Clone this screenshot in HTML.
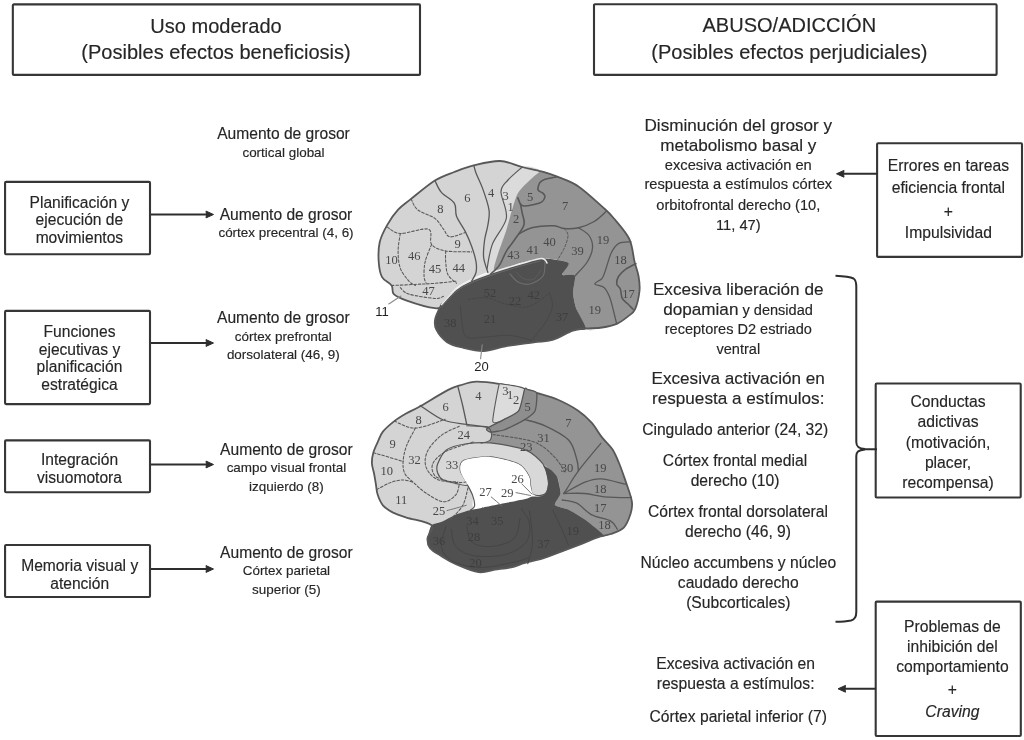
<!DOCTYPE html>
<html><head><meta charset="utf-8"><style>
html,body{margin:0;padding:0;background:#fff;}
body{width:1024px;height:740px;overflow:hidden;}
svg{display:block;filter:grayscale(1);}
</style></head><body>
<svg width="1024" height="740" viewBox="0 0 1024 740">
<rect width="1024" height="740" fill="#fff"/>
<path d="M434.9,308.2 C428.8,307.5 413.6,303.0 406.8,300.6 C400.0,298.2 396.3,296.6 393.8,294.1 C391.3,291.6 393.6,288.4 391.6,285.5 C389.6,282.6 384.0,280.8 381.9,276.8 C379.8,272.8 379.1,267.5 378.7,261.7 C378.3,255.9 378.3,248.3 379.7,242.2 C381.1,236.1 384.2,230.3 387.3,224.9 C390.4,219.5 394.1,214.0 398.1,209.7 C402.1,205.4 405.0,203.8 411.1,198.9 C417.2,194.0 427.7,185.0 434.9,180.5 C442.1,176.0 447.7,174.5 454.2,172.0 C460.7,169.5 466.2,167.2 473.8,165.4 C481.4,163.6 491.9,160.7 500.0,161.0 C508.1,161.3 515.3,165.3 522.2,167.0 C529.1,168.7 535.6,169.8 541.5,171.4 C547.4,173.0 551.1,174.2 557.3,176.7 C563.4,179.2 570.8,181.3 578.4,186.4 C586.0,191.5 597.1,202.1 603.0,207.4 C608.9,212.7 609.1,212.7 613.5,218.0 C617.9,223.3 625.8,231.7 629.3,239.0 C632.8,246.3 633.0,255.8 634.6,262.0 C636.2,268.2 637.8,271.7 638.6,276.5 C639.4,281.3 640.1,285.5 639.5,291.0 C638.9,296.5 637.0,305.0 635.0,309.3 C633.0,313.6 630.8,314.2 627.7,316.6 C624.7,319.0 621.0,322.1 616.7,323.9 C612.4,325.7 607.3,326.7 602.1,327.5 C596.9,328.3 590.2,333.1 585.7,328.5 C581.2,323.9 579.3,309.8 575.0,300.0 C570.7,290.2 569.2,276.2 560.0,270.0 C550.8,263.8 532.2,262.6 520.0,263.0 C507.8,263.4 497.4,268.4 486.8,272.5 C476.2,276.6 463.7,282.2 456.5,287.6 C449.3,293.0 447.1,301.5 443.5,304.9 C439.9,308.3 441.0,308.9 434.9,308.2Z" fill="#d3d4d6"/>
<path d="M522.2,167.0 C527.6,164.3 540.5,169.7 541.5,171.4 C542.5,173.1 533.3,176.9 530.0,180.0 C526.7,183.1 520.1,188.3 517.0,195.0 C513.9,201.7 509.5,219.9 506.4,230.0 C503.3,240.1 496.6,265.6 494.0,270.8 C491.4,276.0 487.2,272.5 487.0,269.0 C486.8,265.5 489.7,251.2 492.3,244.4 C494.9,237.6 505.2,225.0 506.4,218.0 C507.6,211.0 498.9,198.4 501.0,191.6 C503.1,184.8 516.8,169.7 522.2,167.0Z" fill="#dadbdd"/>
<path d="M541.5,171.4 C544.7,171.0 553.0,174.9 557.3,176.7 C561.6,178.4 573.1,182.8 578.4,186.4 C583.7,190.0 598.9,203.7 603.0,207.4 C607.1,211.1 610.4,214.3 613.5,218.0 C616.6,221.7 626.8,233.9 629.3,239.0 C631.8,244.1 633.5,257.6 634.6,262.0 C635.7,266.4 638.0,273.1 638.6,276.5 C639.2,279.9 639.9,287.2 639.5,291.0 C639.1,294.8 636.4,306.3 635.0,309.3 C633.6,312.3 629.8,314.9 627.7,316.6 C625.6,318.3 619.7,322.6 616.7,323.9 C613.7,325.2 605.7,327.0 602.1,327.5 C598.5,328.0 588.7,330.6 585.7,328.5 C582.7,326.4 578.1,313.5 576.6,309.3 C575.1,305.1 573.2,296.8 573.0,292.9 C572.8,289.0 576.1,277.7 574.8,275.6 C573.5,273.5 562.7,276.2 562.0,274.7 C561.3,273.2 570.5,264.7 568.4,262.8 C566.3,260.9 549.4,258.2 543.8,258.2 C538.2,258.2 525.8,261.5 520.0,263.0 C514.2,264.5 495.6,274.7 494.0,270.8 C492.4,266.9 503.7,238.8 506.4,230.0 C509.1,221.2 514.2,200.8 517.0,195.0 C519.8,189.2 527.1,182.8 530.0,180.0 C532.9,177.2 538.3,171.8 541.5,171.4Z" fill="#939496"/>
<path d="M441.7,303.9 C444.2,300.5 453.2,291.7 456.5,289.0 C459.8,286.3 465.6,283.0 470.0,281.0 C474.4,279.0 488.2,274.0 494.0,272.0 C499.8,270.0 514.5,265.6 520.0,264.0 C525.5,262.4 535.9,258.6 541.5,258.5 C547.1,258.4 566.0,260.9 568.4,262.8 C570.8,264.7 561.3,273.2 562.0,274.7 C562.7,276.2 573.5,273.5 574.8,275.6 C576.1,277.7 572.8,289.0 573.0,292.9 C573.2,296.8 575.1,305.1 576.6,309.3 C578.1,313.5 586.1,326.0 585.7,328.5 C585.3,331.0 576.7,329.3 572.8,330.6 C568.9,331.9 557.0,338.6 552.5,340.0 C548.0,341.4 539.3,341.6 533.8,342.3 C528.3,343.0 511.4,345.3 505.6,346.3 C499.8,347.3 488.6,350.8 483.7,351.0 C478.8,351.2 467.7,348.8 463.4,347.8 C459.1,346.8 450.3,344.3 447.1,342.2 C443.9,340.1 437.6,332.2 436.2,329.4 C434.8,326.6 434.7,321.5 435.3,318.5 C435.9,315.5 439.2,307.3 441.7,303.9Z" fill="#505052"/>
<path d="M443.5,304.9 C442.1,305.4 441.0,308.9 434.9,308.2 C428.8,307.5 413.6,303.0 406.8,300.6 C400.0,298.2 396.3,296.6 393.8,294.1 C391.3,291.6 393.6,288.4 391.6,285.5 C389.6,282.6 384.0,280.8 381.9,276.8 C379.8,272.8 379.1,267.5 378.7,261.7 C378.3,255.9 378.3,248.3 379.7,242.2 C381.1,236.1 384.2,230.3 387.3,224.9 C390.4,219.5 394.1,214.0 398.1,209.7 C402.1,205.4 405.0,203.8 411.1,198.9 C417.2,194.0 427.7,185.0 434.9,180.5 C442.1,176.0 447.7,174.5 454.2,172.0 C460.7,169.5 466.2,167.2 473.8,165.4 C481.4,163.6 491.9,160.7 500.0,161.0 C508.1,161.3 515.3,165.3 522.2,167.0 C529.1,168.7 535.6,169.8 541.5,171.4 C547.4,173.0 551.1,174.2 557.3,176.7 C563.4,179.2 570.8,181.3 578.4,186.4 C586.0,191.5 597.1,202.1 603.0,207.4 C608.9,212.7 609.1,212.7 613.5,218.0 C617.9,223.3 625.8,231.7 629.3,239.0 C632.8,246.3 633.0,255.8 634.6,262.0 C636.2,268.2 637.8,271.7 638.6,276.5 C639.4,281.3 640.1,285.5 639.5,291.0 C638.9,296.5 637.0,305.0 635.0,309.3 C633.0,313.6 630.8,314.2 627.7,316.6 C624.7,319.0 621.0,322.1 616.7,323.9 C612.4,325.7 607.3,326.7 602.1,327.5 C596.9,328.3 590.6,328.0 585.7,328.5 C580.8,329.0 578.3,328.7 572.8,330.6 C567.3,332.5 559.0,338.1 552.5,340.0 C546.0,341.9 541.6,341.2 533.8,342.3 C526.0,343.4 514.0,344.9 505.6,346.3 C497.2,347.8 490.7,350.8 483.7,351.0 C476.7,351.2 469.5,349.3 463.4,347.8 C457.3,346.3 451.6,345.3 447.1,342.2 C442.6,339.1 438.2,333.3 436.2,329.4 C434.2,325.4 434.4,322.8 435.3,318.5 C436.2,314.2 440.6,306.3 441.7,303.9" fill="none" stroke="#585858" stroke-width="1.80" stroke-linecap="round" stroke-linejoin="round"/>
<path d="M441.5,304.5 C444.0,301.9 451.8,292.9 456.5,289.0 C461.2,285.1 463.8,283.8 470.0,281.0 C476.2,278.2 485.7,274.8 494.0,272.0 C502.3,269.2 512.1,266.2 520.0,264.0 C527.9,261.8 537.0,258.7 541.5,258.5 C546.0,258.3 546.1,262.2 547.0,263.0" fill="none" stroke="#ececec" stroke-width="1.50" stroke-linecap="round" stroke-linejoin="round"/>
<path d="M442.0,306.0 C444.5,303.5 452.2,294.8 457.0,291.0 C461.8,287.2 464.7,285.8 471.0,283.0 C477.3,280.2 486.7,276.8 495.0,274.0 C503.3,271.2 513.5,268.2 521.0,266.0 C528.5,263.8 536.8,261.8 540.0,261.0" fill="none" stroke="#6a6a6a" stroke-width="0.90" stroke-linecap="round" stroke-linejoin="round"/>
<path d="M510.0,274.0 C511.3,275.3 514.7,280.3 518.0,282.0 C521.3,283.7 525.8,285.0 530.0,284.0 C534.2,283.0 540.5,279.7 543.0,276.0 C545.5,272.3 544.7,264.3 545.0,262.0" fill="none" stroke="#6e6e6e" stroke-width="1.10" stroke-linecap="round" stroke-linejoin="round"/>
<path d="M516.0,272.0 C517.3,273.2 521.0,277.8 524.0,279.0 C527.0,280.2 531.2,280.5 534.0,279.0 C536.8,277.5 539.8,271.5 541.0,270.0" fill="none" stroke="#5e5e5e" stroke-width="0.90" stroke-linecap="round" stroke-linejoin="round"/>
<path d="M434.9,180.5 C436.0,182.5 438.1,188.6 441.4,192.4 C444.6,196.2 451.9,199.3 454.4,203.3 C456.9,207.3 454.7,211.5 456.5,216.2 C458.3,220.9 462.7,226.3 465.2,231.4 C467.7,236.5 469.9,241.4 471.7,246.5 C473.5,251.6 475.3,257.4 476.0,261.7 C476.7,266.0 476.7,269.3 476.0,272.5 C475.3,275.7 472.4,279.6 471.7,281.0" fill="none" stroke="#585858" stroke-width="1.30" stroke-linecap="round" stroke-linejoin="round"/>
<path d="M473.8,165.4 C474.2,166.7 474.6,169.2 476.0,173.0 C477.4,176.8 480.3,182.0 482.5,188.1 C484.7,194.2 488.1,203.7 489.0,209.8 C489.9,215.9 488.6,219.9 487.9,224.9 C487.2,229.9 485.3,234.6 484.6,240.0 C483.9,245.4 483.1,251.9 483.6,257.3 C484.2,262.7 487.2,270.0 487.9,272.5" fill="none" stroke="#585858" stroke-width="1.30" stroke-linecap="round" stroke-linejoin="round"/>
<path d="M522.2,167.0 C519.8,169.2 511.5,175.9 508.0,180.0 C504.5,184.1 501.3,185.3 501.0,191.6 C500.7,197.9 507.8,209.2 506.4,218.0 C504.9,226.8 495.5,235.9 492.3,244.4 C489.1,252.9 487.9,264.9 487.0,269.0" fill="none" stroke="#585858" stroke-width="1.20" stroke-linecap="round" stroke-linejoin="round"/>
<path d="M557.3,176.7 C555.5,177.1 547.6,178.4 545.0,179.3 C542.4,180.2 540.8,181.2 539.7,182.8 C538.7,184.4 537.5,188.3 538.0,189.9 C538.5,191.5 542.2,192.3 543.2,193.4 C544.2,194.5 545.3,195.6 545.0,196.9 C544.7,198.2 543.3,201.0 541.5,202.2 C539.7,203.4 535.3,204.2 532.7,204.8 C530.1,205.4 525.7,206.1 523.9,206.0 C522.1,205.9 521.3,205.1 520.4,203.9 C519.5,202.7 518.2,198.7 517.8,197.8" fill="none" stroke="#585858" stroke-width="1.60" stroke-linecap="round" stroke-linejoin="round"/>
<path d="M520.4,203.9 C520.7,205.4 521.5,209.2 522.1,212.7 C522.7,216.2 525.1,220.6 523.9,225.0 C522.7,229.4 518.0,234.6 515.1,239.0 C512.2,243.4 508.9,246.9 506.3,251.3 C503.7,255.7 501.9,261.6 499.3,265.4 C496.7,269.2 492.0,272.7 490.5,274.2" fill="none" stroke="#585858" stroke-width="1.60" stroke-linecap="round" stroke-linejoin="round"/>
<path d="M518.6,233.9 C521.0,232.8 526.8,228.8 532.7,227.5 C538.6,226.2 548.5,225.6 553.8,225.8 C559.1,226.0 560.2,228.2 564.3,228.5 C568.4,228.8 573.4,228.9 578.4,227.7 C583.4,226.5 589.5,224.3 594.2,221.5 C598.9,218.7 604.5,212.8 606.5,211.0" fill="none" stroke="#585858" stroke-width="1.40" stroke-linecap="round" stroke-linejoin="round"/>
<path d="M564.3,228.5 C564.9,229.7 568.0,232.2 568.0,235.5 C568.0,238.8 566.1,243.9 564.3,248.0 C562.5,252.1 558.5,258.2 557.3,260.3" fill="none" stroke="#585858" stroke-width="1.00" stroke-dasharray="2.5,1.8" stroke-linecap="round" stroke-linejoin="round"/>
<path d="M578.4,227.7 C580.2,229.0 586.6,232.1 589.0,235.5 C591.4,238.9 592.8,243.6 592.5,248.0 C592.2,252.4 590.1,257.3 587.2,262.0 C584.3,266.7 577.0,273.7 575.0,276.0" fill="none" stroke="#585858" stroke-width="1.30" stroke-linecap="round" stroke-linejoin="round"/>
<path d="M631.0,241.8 C628.9,242.1 621.8,241.8 618.5,243.6 C615.2,245.4 613.4,248.5 611.3,252.8 C609.2,257.1 607.3,264.9 605.8,269.2 C604.3,273.4 603.9,275.9 602.1,278.3 C600.3,280.7 594.5,282.3 594.8,283.8 C595.1,285.3 601.6,285.3 604.0,287.4 C606.4,289.5 607.9,292.9 609.4,296.5 C610.9,300.1 611.9,304.7 613.1,309.3 C614.3,313.9 616.1,321.5 616.7,323.9" fill="none" stroke="#585858" stroke-width="1.30" stroke-linecap="round" stroke-linejoin="round"/>
<path d="M635.9,263.7 C634.2,264.6 628.7,267.1 625.8,269.2 C622.9,271.3 620.0,274.1 618.5,276.5 C617.0,278.9 616.4,281.7 616.7,283.8 C617.0,285.9 619.5,286.8 620.4,289.2 C621.3,291.6 621.0,296.0 622.2,298.4 C623.4,300.8 625.9,302.0 627.7,303.8 C629.5,305.6 632.2,308.4 633.1,309.3" fill="none" stroke="#585858" stroke-width="1.60" stroke-linecap="round" stroke-linejoin="round"/>
<path d="M411.1,198.9 C412.2,200.7 413.6,206.4 417.6,209.7 C421.6,212.9 430.6,215.2 434.9,218.4 C439.2,221.7 441.0,226.1 443.5,229.2 C446.0,232.3 446.4,236.2 450.0,236.8 C453.6,237.4 462.7,233.2 465.2,232.5" fill="none" stroke="#585858" stroke-width="1.05" stroke-dasharray="2.6,1.8" stroke-linecap="round" stroke-linejoin="round"/>
<path d="M387.3,227.1 C389.5,228.2 393.5,233.2 400.3,233.5 C407.1,233.8 423.2,227.4 428.4,229.2 C433.6,231.0 428.7,240.8 431.6,244.4 C434.5,248.0 439.0,249.7 445.7,250.9 C452.4,252.2 467.4,251.7 471.7,251.9" fill="none" stroke="#585858" stroke-width="1.05" stroke-dasharray="2.6,1.8" stroke-linecap="round" stroke-linejoin="round"/>
<path d="M400.3,233.5 C399.9,236.4 398.1,245.1 398.1,250.9 C398.1,256.7 398.5,263.2 400.3,268.2 C402.1,273.2 406.4,278.2 408.9,281.1 C411.4,284.0 414.3,284.8 415.4,285.5" fill="none" stroke="#585858" stroke-width="1.05" stroke-dasharray="2.6,1.8" stroke-linecap="round" stroke-linejoin="round"/>
<path d="M431.6,244.4 C430.5,247.3 426.4,256.3 425.2,261.7 C423.9,267.1 423.9,273.2 424.1,276.8 C424.3,280.4 425.9,282.2 426.2,283.3" fill="none" stroke="#585858" stroke-width="1.05" stroke-dasharray="2.6,1.8" stroke-linecap="round" stroke-linejoin="round"/>
<path d="M445.7,250.9 C445.7,252.7 445.3,257.8 445.7,261.7 C446.1,265.6 446.1,271.0 447.9,274.6 C449.7,278.2 455.1,281.9 456.5,283.3" fill="none" stroke="#585858" stroke-width="1.05" stroke-dasharray="2.6,1.8" stroke-linecap="round" stroke-linejoin="round"/>
<path d="M391.6,285.5 C395.6,285.3 408.2,284.8 415.4,284.4 C422.6,284.0 428.0,283.9 434.9,283.3 C441.8,282.8 452.9,281.5 456.5,281.1" fill="none" stroke="#585858" stroke-width="1.05" stroke-dasharray="2.6,1.8" stroke-linecap="round" stroke-linejoin="round"/>
<path d="M400.3,287.6 C401.7,288.7 403.1,292.3 408.9,294.1 C414.7,295.9 429.1,298.0 434.9,298.4 C440.7,298.8 442.1,296.6 443.5,296.3" fill="none" stroke="#585858" stroke-width="1.05" stroke-dasharray="2.6,1.8" stroke-linecap="round" stroke-linejoin="round"/>
<path d="M460.3,305.6 C460.6,308.2 460.8,316.1 461.9,321.3 C462.9,326.5 462.4,334.3 466.6,336.9 C470.8,339.5 479.9,337.2 486.9,336.9 C493.9,336.6 501.5,334.8 508.8,335.3 C516.1,335.8 527.0,339.2 530.6,340.0" fill="none" stroke="#474747" stroke-width="1.00" stroke-linecap="round" stroke-linejoin="round"/>
<path d="M468.1,299.4 C471.2,299.1 480.6,297.0 486.9,297.8 C493.1,298.6 499.4,302.4 505.6,304.0 C511.9,305.6 519.2,307.4 524.4,307.2 C529.6,306.9 532.7,304.9 536.9,302.5 C541.1,300.1 547.3,294.7 549.4,293.1" fill="none" stroke="#474747" stroke-width="1.00" stroke-dasharray="2.5,1.8" stroke-linecap="round" stroke-linejoin="round"/>
<path d="M549.4,293.1 C549.9,295.2 553.0,300.9 552.5,305.6 C552.0,310.3 549.9,315.3 546.3,321.3 C542.6,327.3 533.2,338.2 530.6,341.6" fill="none" stroke="#474747" stroke-width="1.00" stroke-linecap="round" stroke-linejoin="round"/>
<text x="467.3" y="202.3" font-size="12.5" text-anchor="middle" fill="#484848" style="font-family:'Liberation Serif',serif">6</text>
<text x="491.1" y="196.8" font-size="12.5" text-anchor="middle" fill="#484848" style="font-family:'Liberation Serif',serif">4</text>
<text x="505.5" y="200.4" font-size="12.5" text-anchor="middle" fill="#484848" style="font-family:'Liberation Serif',serif">3</text>
<text x="510.7" y="210.9" font-size="12.5" text-anchor="middle" fill="#484848" style="font-family:'Liberation Serif',serif">1</text>
<text x="516.0" y="223.2" font-size="12.5" text-anchor="middle" fill="#484848" style="font-family:'Liberation Serif',serif">2</text>
<text x="530.0" y="201.3" font-size="12.5" text-anchor="middle" fill="#484848" style="font-family:'Liberation Serif',serif">5</text>
<text x="565.2" y="210.1" font-size="12.5" text-anchor="middle" fill="#484848" style="font-family:'Liberation Serif',serif">7</text>
<text x="440.3" y="213.1" font-size="12.5" text-anchor="middle" fill="#484848" style="font-family:'Liberation Serif',serif">8</text>
<text x="457.6" y="247.7" font-size="12.5" text-anchor="middle" fill="#484848" style="font-family:'Liberation Serif',serif">9</text>
<text x="391.6" y="264.4" font-size="12.5" text-anchor="middle" fill="#484848" style="font-family:'Liberation Serif',serif">10</text>
<text x="414.3" y="259.6" font-size="12.5" text-anchor="middle" fill="#484848" style="font-family:'Liberation Serif',serif">46</text>
<text x="434.9" y="272.6" font-size="12.5" text-anchor="middle" fill="#484848" style="font-family:'Liberation Serif',serif">45</text>
<text x="458.7" y="271.5" font-size="12.5" text-anchor="middle" fill="#484848" style="font-family:'Liberation Serif',serif">44</text>
<text x="428.4" y="295.3" font-size="12.5" text-anchor="middle" fill="#484848" style="font-family:'Liberation Serif',serif">47</text>
<text x="513.4" y="259.2" font-size="12.5" text-anchor="middle" fill="#484848" style="font-family:'Liberation Serif',serif">43</text>
<text x="532.7" y="254.0" font-size="12.5" text-anchor="middle" fill="#484848" style="font-family:'Liberation Serif',serif">41</text>
<text x="549.4" y="246.1" font-size="12.5" text-anchor="middle" fill="#484848" style="font-family:'Liberation Serif',serif">40</text>
<text x="577.5" y="254.8" font-size="12.5" text-anchor="middle" fill="#484848" style="font-family:'Liberation Serif',serif">39</text>
<text x="603.0" y="244.3" font-size="12.5" text-anchor="middle" fill="#484848" style="font-family:'Liberation Serif',serif">19</text>
<text x="620.5" y="263.6" font-size="12.5" text-anchor="middle" fill="#484848" style="font-family:'Liberation Serif',serif">18</text>
<text x="628.6" y="298.2" font-size="12.5" text-anchor="middle" fill="#484848" style="font-family:'Liberation Serif',serif">17</text>
<text x="594.8" y="313.7" font-size="12.5" text-anchor="middle" fill="#484848" style="font-family:'Liberation Serif',serif">19</text>
<text x="490.0" y="323.3" font-size="12.5" text-anchor="middle" fill="#3e3e40" style="font-family:'Liberation Serif',serif">21</text>
<text x="450.2" y="327.2" font-size="12.5" text-anchor="middle" fill="#3e3e40" style="font-family:'Liberation Serif',serif">38</text>
<text x="490.0" y="296.7" font-size="12.5" text-anchor="middle" fill="#3e3e40" style="font-family:'Liberation Serif',serif">52</text>
<text x="515.0" y="305.4" font-size="12.5" text-anchor="middle" fill="#3e3e40" style="font-family:'Liberation Serif',serif">22</text>
<text x="533.7" y="299.1" font-size="12.5" text-anchor="middle" fill="#3e3e40" style="font-family:'Liberation Serif',serif">42</text>
<text x="562.0" y="321.0" font-size="12.5" text-anchor="middle" fill="#3e3e40" style="font-family:'Liberation Serif',serif">37</text>
<text x="381.9" y="316" font-size="13" text-anchor="middle" fill="#1e1e1e" style="font-family:'Liberation Sans',sans-serif">11</text>
<text x="481.5" y="371" font-size="13" text-anchor="middle" fill="#1e1e1e" style="font-family:'Liberation Sans',sans-serif">20</text>
<path d="M388.7,303.9 C390.8,302.6 398.9,297.3 401.0,296.0" fill="none" stroke="#888" stroke-width="1.10" stroke-linecap="round" stroke-linejoin="round"/>
<path d="M480.6,358.8 C480.9,356.4 481.9,347.1 482.2,344.7" fill="none" stroke="#888" stroke-width="1.10" stroke-linecap="round" stroke-linejoin="round"/>
<path d="M431.5,525.2 C428.0,521.8 413.1,519.7 406.6,517.6 C400.1,515.5 396.6,514.4 392.6,512.4 C388.7,510.3 385.4,508.2 382.9,505.3 C380.4,502.4 378.9,498.3 377.7,494.8 C376.5,491.3 376.5,487.8 375.9,484.3 C375.3,480.8 374.8,477.2 374.1,473.7 C373.4,470.2 372.0,466.7 371.9,463.2 C371.8,459.7 372.3,456.2 373.3,452.7 C374.3,449.2 376.1,445.6 377.7,442.1 C379.3,438.6 380.1,435.1 382.9,431.6 C385.7,428.1 390.4,424.2 394.3,421.1 C398.2,418.0 402.5,415.6 406.6,413.2 C410.7,410.8 412.0,410.9 418.9,407.0 C425.8,403.1 441.3,393.5 448.2,389.9 C455.1,386.3 455.4,386.8 460.1,385.4 C464.8,384.0 469.7,381.9 476.5,381.7 C483.3,381.5 493.0,383.0 501.0,384.2 C509.0,385.4 518.8,387.7 524.7,389.1 C530.6,390.5 531.2,391.1 536.6,392.8 C542.0,394.5 550.5,396.5 557.4,399.5 C564.3,402.5 572.5,406.8 578.2,410.7 C583.9,414.6 587.6,418.2 591.6,422.6 C595.6,427.1 598.5,432.9 602.0,437.4 C605.5,441.8 609.6,445.0 612.4,449.3 C615.2,453.6 616.8,457.8 619.0,463.0 C621.2,468.2 623.2,474.1 625.4,480.5 C627.5,486.9 631.1,495.9 631.9,501.6 C632.7,507.3 631.6,510.3 630.3,514.6 C628.9,518.9 627.0,524.4 623.8,527.6 C620.5,530.8 615.1,532.4 610.8,534.0 C606.5,535.6 602.7,535.7 597.8,537.3 C592.9,538.9 587.8,541.4 581.6,543.8 C575.4,546.2 566.7,549.5 560.5,551.9 C554.3,554.3 550.2,556.1 544.3,558.0 C538.4,559.9 530.5,561.5 525.0,563.0 C519.5,564.5 516.2,566.2 511.2,567.3 C506.2,568.4 500.4,568.9 495.0,569.7 C489.6,570.5 485.1,573.1 478.6,572.2 C472.1,571.3 462.1,566.8 455.9,564.1 C449.7,561.4 445.5,558.7 441.2,556.0 C436.9,553.3 432.2,550.9 429.9,547.9 C427.6,544.9 427.2,541.9 427.5,538.1 C427.8,534.3 435.0,528.6 431.5,525.2Z" fill="#d3d4d6"/>
<path d="M524.7,389.1 C526.0,388.4 533.3,391.8 536.6,392.8 C539.9,393.8 553.2,397.7 557.4,399.5 C561.6,401.3 574.8,408.4 578.2,410.7 C581.6,413.0 589.2,419.9 591.6,422.6 C594.0,425.3 599.9,434.7 602.0,437.4 C604.1,440.1 610.7,446.7 612.4,449.3 C614.1,451.9 617.7,459.9 619.0,463.0 C620.3,466.1 624.1,476.6 625.4,480.5 C626.7,484.4 631.4,498.2 631.9,501.6 C632.4,505.0 631.1,512.0 630.3,514.6 C629.5,517.2 625.8,525.7 623.8,527.6 C621.8,529.5 612.8,533.2 610.8,534.0 C608.8,534.8 606.6,537.0 604.0,535.5 C601.4,534.0 588.4,522.1 584.9,519.5 C581.4,516.9 571.6,511.2 568.6,509.7 C565.6,508.2 555.7,506.5 554.9,504.9 C554.1,503.3 560.3,496.3 560.5,493.5 C560.7,490.7 558.8,480.1 557.3,477.3 C555.8,474.6 547.3,467.3 545.9,466.0 C544.5,464.7 545.0,466.1 543.0,464.5 C541.0,462.9 530.8,452.1 525.5,449.9 C520.2,447.7 493.9,443.8 490.3,442.9 C486.7,442.0 489.8,442.0 489.9,441.0 C490.0,440.0 491.6,434.4 491.3,433.1 C491.0,431.9 485.7,429.7 487.0,428.5 C488.3,427.3 501.2,423.1 504.4,421.5 C507.6,419.9 516.9,414.9 518.9,412.8 C520.9,410.7 523.4,402.4 524.0,400.0 C524.6,397.6 523.4,389.8 524.7,389.1Z" fill="#939496"/>
<path d="M437.6,464.0 C438.8,461.0 442.7,452.6 446.4,449.9 C450.1,447.2 459.1,444.9 465.0,444.0 C470.9,443.1 482.2,442.1 490.3,442.9 C498.4,443.7 518.5,447.1 525.5,449.9 C532.5,452.7 540.0,459.8 543.0,464.0 C546.0,468.2 547.8,477.8 548.3,481.5 C548.8,485.2 547.8,490.2 546.6,492.1 C545.4,494.0 541.4,495.4 539.5,495.6 C537.6,495.8 533.7,495.0 532.5,493.8 C531.3,492.6 531.2,489.1 530.7,486.8 C530.2,484.5 530.6,479.2 529.0,476.2 C527.4,473.2 523.6,466.6 518.4,464.0 C513.2,461.4 497.6,457.4 490.3,456.9 C483.0,456.4 468.0,458.5 464.0,460.4 C460.0,462.3 459.9,467.7 460.4,471.0 C460.9,474.3 468.2,483.4 467.5,485.0 C466.8,486.6 458.5,484.0 455.2,483.3 C451.9,482.6 445.2,481.2 442.9,479.8 C440.6,478.4 438.3,474.8 437.6,472.7 C436.9,470.6 436.4,467.0 437.6,464.0Z" fill="#d8d8d8" stroke="#585858" stroke-width="1.2"/>
<path d="M464.0,460.4 C468.0,458.5 483.0,456.4 490.3,456.9 C497.6,457.4 513.2,461.4 518.4,464.0 C523.6,466.6 527.4,473.2 529.0,476.2 C530.6,479.2 530.2,484.4 530.7,486.8 C531.2,489.2 531.8,492.2 533.0,494.0 C534.2,495.8 541.1,498.5 540.0,500.0 C538.9,501.5 530.5,503.7 525.0,505.0 C519.5,506.3 505.8,509.3 499.1,510.0 C492.4,510.7 478.0,511.9 474.5,510.0 C471.0,508.1 473.6,498.9 472.7,495.6 C471.8,492.3 469.1,488.3 467.5,485.0 C465.9,481.7 460.9,474.3 460.4,471.0 C459.9,467.7 460.0,462.3 464.0,460.4Z" fill="#ffffff"/>
<path d="M467.5,485.0 C468.4,486.8 471.5,492.1 472.7,495.6 C473.9,499.1 474.9,503.7 474.5,506.1 C474.1,508.5 471.2,509.4 470.5,510.0" fill="none" stroke="#585858" stroke-width="1.20" stroke-linecap="round" stroke-linejoin="round"/>
<path d="M431.5,525.2 C432.9,523.6 438.8,522.9 441.2,521.9 C443.6,520.9 452.4,516.0 455.2,514.9 C458.0,513.8 466.2,511.3 468.8,510.6 C471.4,509.9 477.6,508.7 481.5,507.9 C485.4,507.1 503.5,503.5 507.9,502.6 C512.3,501.7 523.1,499.7 525.5,499.1 C527.9,498.5 530.5,496.8 532.0,496.5 C533.5,496.2 538.6,496.9 540.0,496.5 C541.4,496.1 545.2,494.5 546.0,493.0 C546.8,491.5 548.3,483.8 548.3,481.5 C548.2,479.2 546.0,471.6 545.5,470.0 C545.0,468.4 542.5,465.2 543.0,465.2 C543.5,465.2 549.6,468.8 551.0,470.0 C552.4,471.2 556.3,474.9 557.3,477.3 C558.2,479.7 560.7,490.7 560.5,493.5 C560.3,496.3 554.1,503.3 554.9,504.9 C555.7,506.5 565.6,508.2 568.6,509.7 C571.6,511.2 581.4,516.9 584.9,519.5 C588.4,522.1 602.7,533.7 604.0,535.5 C605.3,537.3 600.0,536.5 597.8,537.3 C595.6,538.1 585.3,542.3 581.6,543.8 C577.9,545.3 564.2,550.5 560.5,551.9 C556.8,553.3 547.8,556.9 544.3,558.0 C540.8,559.1 528.3,562.1 525.0,563.0 C521.7,563.9 514.2,566.6 511.2,567.3 C508.2,568.0 498.3,569.2 495.0,569.7 C491.7,570.2 482.5,572.8 478.6,572.2 C474.7,571.6 459.6,565.7 455.9,564.1 C452.2,562.5 443.8,557.6 441.2,556.0 C438.6,554.4 431.3,549.7 429.9,547.9 C428.5,546.1 427.3,540.4 427.5,538.1 C427.7,535.8 430.1,526.8 431.5,525.2Z" fill="#505052"/>
<path d="M431.5,525.2 C428.0,521.8 413.1,519.7 406.6,517.6 C400.1,515.5 396.6,514.4 392.6,512.4 C388.7,510.3 385.4,508.2 382.9,505.3 C380.4,502.4 378.9,498.3 377.7,494.8 C376.5,491.3 376.5,487.8 375.9,484.3 C375.3,480.8 374.8,477.2 374.1,473.7 C373.4,470.2 372.0,466.7 371.9,463.2 C371.8,459.7 372.3,456.2 373.3,452.7 C374.3,449.2 376.1,445.6 377.7,442.1 C379.3,438.6 380.1,435.1 382.9,431.6 C385.7,428.1 390.4,424.2 394.3,421.1 C398.2,418.0 402.5,415.6 406.6,413.2 C410.7,410.8 412.0,410.9 418.9,407.0 C425.8,403.1 441.3,393.5 448.2,389.9 C455.1,386.3 455.4,386.8 460.1,385.4 C464.8,384.0 469.7,381.9 476.5,381.7 C483.3,381.5 493.0,383.0 501.0,384.2 C509.0,385.4 518.8,387.7 524.7,389.1 C530.6,390.5 531.2,391.1 536.6,392.8 C542.0,394.5 550.5,396.5 557.4,399.5 C564.3,402.5 572.5,406.8 578.2,410.7 C583.9,414.6 587.6,418.2 591.6,422.6 C595.6,427.1 598.5,432.9 602.0,437.4 C605.5,441.8 609.6,445.0 612.4,449.3 C615.2,453.6 616.8,457.8 619.0,463.0 C621.2,468.2 623.2,474.1 625.4,480.5 C627.5,486.9 631.1,495.9 631.9,501.6 C632.7,507.3 631.6,510.3 630.3,514.6 C628.9,518.9 627.0,524.4 623.8,527.6 C620.5,530.8 615.1,532.4 610.8,534.0 C606.5,535.6 602.7,535.7 597.8,537.3 C592.9,538.9 587.8,541.4 581.6,543.8 C575.4,546.2 566.7,549.5 560.5,551.9 C554.3,554.3 550.2,556.1 544.3,558.0 C538.4,559.9 530.5,561.5 525.0,563.0 C519.5,564.5 516.2,566.2 511.2,567.3 C506.2,568.4 500.4,568.9 495.0,569.7 C489.6,570.5 485.1,573.1 478.6,572.2 C472.1,571.3 462.1,566.8 455.9,564.1 C449.7,561.4 445.5,558.7 441.2,556.0 C436.9,553.3 432.2,550.9 429.9,547.9 C427.6,544.9 427.2,541.9 427.5,538.1 C427.8,534.3 435.0,528.6 431.5,525.2Z" fill="none" stroke="#585858" stroke-width="1.8"/>
<path d="M501.5,384.0 C504.1,384.2 523.0,386.4 524.7,389.1 C526.4,391.8 520.9,407.6 518.8,410.7 C516.7,413.8 506.5,418.5 503.9,419.6 C501.3,420.7 493.3,424.8 492.8,421.5 C492.3,418.2 497.7,390.4 498.6,386.6 C499.5,382.9 498.9,383.8 501.5,384.0Z" fill="#dcdcdc" stroke="#585858" stroke-width="1.1"/>
<path d="M527.6,389.5 C528.8,389.9 535.9,390.7 536.6,392.8 C537.4,394.9 536.3,408.0 535.1,410.7 C533.9,413.4 527.8,417.7 524.7,419.6 C521.6,421.5 507.4,428.8 503.9,430.0 C500.4,431.2 491.7,432.1 490.0,432.0 C488.3,431.9 485.6,429.7 487.0,428.5 C488.4,427.3 500.7,421.4 503.9,419.6 C507.1,417.8 516.7,413.8 518.8,410.7 C520.9,407.6 523.8,391.2 524.7,389.1 C525.6,387.0 526.4,389.1 527.6,389.5Z" fill="#8e8e8e" stroke="#585858" stroke-width="1.3"/>
<path d="M457.9,386.6 C458.6,389.5 460.8,397.7 462.3,404.0 C463.8,410.3 466.0,421.0 466.7,424.4" fill="none" stroke="#585858" stroke-width="1.30" stroke-linecap="round" stroke-linejoin="round"/>
<path d="M420.2,405.5 C424.1,407.9 435.6,416.9 443.4,420.0 C451.1,423.1 459.3,423.2 466.7,424.4 C474.1,425.6 484.4,426.6 488.0,427.0" fill="none" stroke="#585858" stroke-width="1.30" stroke-linecap="round" stroke-linejoin="round"/>
<path d="M524.7,419.6 C528.1,420.6 537.8,422.4 545.1,425.8 C552.4,429.2 563.3,434.4 568.6,440.0 C573.9,445.6 575.2,454.4 576.8,459.5 C578.4,464.6 578.1,468.9 578.4,470.8" fill="none" stroke="#585858" stroke-width="1.40" stroke-linecap="round" stroke-linejoin="round"/>
<path d="M601.0,443.2 C597.2,447.8 584.1,463.2 578.4,470.8 C572.7,478.4 569.4,484.8 567.0,488.6 C564.6,492.4 564.3,492.7 563.8,493.5" fill="none" stroke="#585858" stroke-width="1.30" stroke-linecap="round" stroke-linejoin="round"/>
<path d="M563.8,493.5 C567.3,491.6 578.7,484.6 584.9,482.2 C591.1,479.8 594.6,478.6 601.1,478.9 C607.6,479.2 619.6,482.9 623.8,483.8 C627.9,484.7 625.6,484.0 626.0,484.0" fill="none" stroke="#585858" stroke-width="1.30" stroke-linecap="round" stroke-linejoin="round"/>
<path d="M563.8,493.5 C567.3,493.5 578.1,492.9 584.9,493.5 C591.6,494.1 597.0,496.1 604.3,496.8 C611.6,497.5 624.1,497.6 628.6,497.6 C633.1,497.6 630.6,497.1 631.0,497.0" fill="none" stroke="#585858" stroke-width="1.30" stroke-linecap="round" stroke-linejoin="round"/>
<path d="M562.2,500.0 C564.6,500.5 571.9,500.8 576.8,503.2 C581.6,505.6 585.6,511.6 591.3,514.6 C597.0,517.6 606.5,518.7 610.8,521.1 C615.1,523.5 616.2,527.9 617.3,529.2" fill="none" stroke="#585858" stroke-width="1.30" stroke-linecap="round" stroke-linejoin="round"/>
<path d="M466.7,425.8 C470.1,426.1 482.9,426.1 487.0,427.3 C491.1,428.5 490.8,430.9 491.3,433.1 C491.8,435.3 491.6,438.6 489.9,440.3 C488.2,442.0 482.6,442.8 481.2,443.3" fill="none" stroke="#585858" stroke-width="1.10" stroke-linecap="round" stroke-linejoin="round"/>
<path d="M394.3,421.1 C397.8,422.3 406.9,428.4 415.4,428.1 C423.9,427.8 440.2,420.8 445.2,419.3" fill="none" stroke="#585858" stroke-width="1.05" stroke-dasharray="2.6,1.8" stroke-linecap="round" stroke-linejoin="round"/>
<path d="M415.4,428.1 C413.9,431.0 408.7,440.1 406.6,445.6 C404.6,451.2 403.4,456.7 403.1,461.4 C402.8,466.1 403.1,470.2 404.9,473.7 C406.6,477.2 410.1,479.3 413.6,482.5 C417.1,485.7 420.9,489.8 425.9,493.0 C430.9,496.2 438.5,501.5 443.5,501.8 C448.5,502.1 453.2,497.7 455.8,494.8 C458.4,491.9 458.7,486.1 459.3,484.3" fill="none" stroke="#585858" stroke-width="1.05" stroke-dasharray="2.6,1.8" stroke-linecap="round" stroke-linejoin="round"/>
<path d="M373.5,452.7 C378.4,454.1 398.2,459.9 403.1,461.4" fill="none" stroke="#585858" stroke-width="1.05" stroke-dasharray="2.6,1.8" stroke-linecap="round" stroke-linejoin="round"/>
<path d="M376.8,489.5 C379.1,488.3 386.4,484.1 390.8,482.5 C395.2,480.9 399.3,479.9 403.1,479.9 C406.9,479.9 411.9,482.1 413.6,482.5" fill="none" stroke="#585858" stroke-width="1.05" stroke-dasharray="2.6,1.8" stroke-linecap="round" stroke-linejoin="round"/>
<path d="M459.3,426.3 C456.4,427.8 447.0,431.0 441.7,435.1 C436.4,439.2 430.3,445.6 427.7,450.9 C425.1,456.2 424.4,462.0 425.9,466.7 C427.4,471.4 431.5,476.4 436.5,479.0 C441.5,481.6 450.9,482.0 455.8,482.5 C460.7,483.0 464.3,482.1 466.0,482.0" fill="none" stroke="#585858" stroke-width="1.05" stroke-dasharray="2.6,1.8" stroke-linecap="round" stroke-linejoin="round"/>
<path d="M473.3,442.1 C468.9,443.6 453.7,447.4 447.0,450.9 C440.3,454.4 435.1,459.1 433.0,463.2 C430.9,467.3 432.4,472.6 434.7,475.5 C437.0,478.4 443.1,479.7 447.0,480.8 C450.9,481.9 456.2,481.8 458.0,482.0" fill="none" stroke="#585858" stroke-width="1.05" stroke-dasharray="2.6,1.8" stroke-linecap="round" stroke-linejoin="round"/>
<path d="M468.0,487.8 C467.1,490.7 465.7,500.0 462.8,505.3 C459.9,510.6 452.6,517.0 450.5,519.4" fill="none" stroke="#585858" stroke-width="1.05" stroke-dasharray="2.6,1.8" stroke-linecap="round" stroke-linejoin="round"/>
<path d="M492.8,434.5 C499.6,435.7 523.3,438.2 533.5,441.8 C543.7,445.4 548.5,451.3 553.8,456.3 C559.0,461.3 563.1,469.4 565.0,472.0" fill="none" stroke="#585858" stroke-width="1.10" stroke-dasharray="2.6,1.8" stroke-linecap="round" stroke-linejoin="round"/>
<path d="M451.3,529.4 C452.1,532.3 452.0,542.2 455.9,546.6 C459.8,551.0 466.4,554.6 474.7,555.9 C483.0,557.2 497.3,556.7 505.9,554.4 C514.5,552.1 522.4,547.1 526.3,541.9 C530.2,536.7 530.2,528.6 529.4,523.1 C528.6,517.6 522.9,511.4 521.6,509.1" fill="none" stroke="#454547" stroke-width="1.00" stroke-linecap="round" stroke-linejoin="round"/>
<path d="M466.9,526.3 C467.7,528.9 467.7,538.5 471.6,541.9 C475.5,545.3 483.3,547.1 490.3,546.6 C497.3,546.1 508.8,543.5 513.8,538.8 C518.8,534.1 519.0,521.8 520.0,518.4" fill="none" stroke="#454547" stroke-width="1.00" stroke-linecap="round" stroke-linejoin="round"/>
<path d="M446.0,526.3 C445.2,529.7 440.5,540.8 441.5,546.6 C442.5,552.4 445.7,557.5 452.0,561.0 C458.3,564.5 469.1,567.3 479.4,567.5 C489.7,567.7 505.5,563.9 513.8,562.2 C522.1,560.5 526.8,558.3 529.4,557.5" fill="none" stroke="#454547" stroke-width="1.00" stroke-linecap="round" stroke-linejoin="round"/>
<path d="M529.4,510.6 C529.9,515.8 532.8,533.0 532.5,541.9 C532.2,550.8 528.6,560.1 527.8,563.8" fill="none" stroke="#454547" stroke-width="1.00" stroke-linecap="round" stroke-linejoin="round"/>
<path d="M552.8,510.6 C554.1,513.2 558.0,520.6 560.6,526.3 C563.2,532.0 567.1,541.9 568.4,545.0" fill="none" stroke="#454547" stroke-width="1.00" stroke-linecap="round" stroke-linejoin="round"/>
<path d="M491.3,497.0 C493.0,498.4 499.8,504.2 501.5,505.7" fill="none" stroke="#777" stroke-width="1.00" stroke-linecap="round" stroke-linejoin="round"/>
<path d="M516.0,492.6 C518.4,493.1 528.1,495.0 530.5,495.5" fill="none" stroke="#777" stroke-width="1.00" stroke-linecap="round" stroke-linejoin="round"/>
<path d="M521.8,483.9 C523.5,485.6 530.3,492.4 532.0,494.1" fill="none" stroke="#777" stroke-width="1.00" stroke-linecap="round" stroke-linejoin="round"/>
<path d="M447.0,510.6 C450.2,509.7 463.1,506.2 466.3,505.3" fill="none" stroke="#777" stroke-width="1.00" stroke-linecap="round" stroke-linejoin="round"/>
<text x="478.3" y="399.7" font-size="12.5" text-anchor="middle" fill="#484848" style="font-family:'Liberation Serif',serif">4</text>
<text x="505.3" y="395.4" font-size="12.5" text-anchor="middle" fill="#484848" style="font-family:'Liberation Serif',serif">3</text>
<text x="510.2" y="399.2" font-size="12.5" text-anchor="middle" fill="#484848" style="font-family:'Liberation Serif',serif">1</text>
<text x="516.0" y="404.1" font-size="12.5" text-anchor="middle" fill="#484848" style="font-family:'Liberation Serif',serif">2</text>
<text x="527.6" y="411.4" font-size="12.5" text-anchor="middle" fill="#484848" style="font-family:'Liberation Serif',serif">5</text>
<text x="445.7" y="411.4" font-size="12.5" text-anchor="middle" fill="#484848" style="font-family:'Liberation Serif',serif">6</text>
<text x="568.3" y="427.3" font-size="12.5" text-anchor="middle" fill="#484848" style="font-family:'Liberation Serif',serif">7</text>
<text x="418.7" y="424.4" font-size="12.5" text-anchor="middle" fill="#484848" style="font-family:'Liberation Serif',serif">8</text>
<text x="463.8" y="438.9" font-size="12.5" text-anchor="middle" fill="#484848" style="font-family:'Liberation Serif',serif">24</text>
<text x="543.6" y="441.8" font-size="12.5" text-anchor="middle" fill="#484848" style="font-family:'Liberation Serif',serif">31</text>
<text x="526.2" y="450.6" font-size="12.5" text-anchor="middle" fill="#484848" style="font-family:'Liberation Serif',serif">23</text>
<text x="392.6" y="447.7" font-size="12.5" text-anchor="middle" fill="#484848" style="font-family:'Liberation Serif',serif">9</text>
<text x="414.4" y="463.6" font-size="12.5" text-anchor="middle" fill="#484848" style="font-family:'Liberation Serif',serif">32</text>
<text x="452.1" y="469.4" font-size="12.5" text-anchor="middle" fill="#484848" style="font-family:'Liberation Serif',serif">33</text>
<text x="386.8" y="475.2" font-size="12.5" text-anchor="middle" fill="#484848" style="font-family:'Liberation Serif',serif">10</text>
<text x="566.9" y="472.4" font-size="12.5" text-anchor="middle" fill="#484848" style="font-family:'Liberation Serif',serif">30</text>
<text x="600.3" y="472.4" font-size="12.5" text-anchor="middle" fill="#484848" style="font-family:'Liberation Serif',serif">19</text>
<text x="600.3" y="492.7" font-size="12.5" text-anchor="middle" fill="#484848" style="font-family:'Liberation Serif',serif">18</text>
<text x="517.5" y="482.5" font-size="12.5" text-anchor="middle" fill="#484848" style="font-family:'Liberation Serif',serif">26</text>
<text x="485.5" y="495.6" font-size="12.5" text-anchor="middle" fill="#484848" style="font-family:'Liberation Serif',serif">27</text>
<text x="507.3" y="497.0" font-size="12.5" text-anchor="middle" fill="#484848" style="font-family:'Liberation Serif',serif">29</text>
<text x="401.3" y="504.3" font-size="12.5" text-anchor="middle" fill="#484848" style="font-family:'Liberation Serif',serif">11</text>
<text x="600.3" y="511.6" font-size="12.5" text-anchor="middle" fill="#484848" style="font-family:'Liberation Serif',serif">17</text>
<text x="439.1" y="514.5" font-size="12.5" text-anchor="middle" fill="#484848" style="font-family:'Liberation Serif',serif">25</text>
<text x="604.6" y="529.0" font-size="12.5" text-anchor="middle" fill="#484848" style="font-family:'Liberation Serif',serif">18</text>
<text x="572.7" y="534.8" font-size="12.5" text-anchor="middle" fill="#3e3e40" style="font-family:'Liberation Serif',serif">19</text>
<text x="543.6" y="547.9" font-size="12.5" text-anchor="middle" fill="#3e3e40" style="font-family:'Liberation Serif',serif">37</text>
<text x="472.5" y="524.6" font-size="12.5" text-anchor="middle" fill="#3e3e40" style="font-family:'Liberation Serif',serif">34</text>
<text x="497.2" y="524.6" font-size="12.5" text-anchor="middle" fill="#3e3e40" style="font-family:'Liberation Serif',serif">35</text>
<text x="473.9" y="540.6" font-size="12.5" text-anchor="middle" fill="#3e3e40" style="font-family:'Liberation Serif',serif">28</text>
<text x="439.1" y="545.0" font-size="12.5" text-anchor="middle" fill="#3e3e40" style="font-family:'Liberation Serif',serif">36</text>
<text x="475.4" y="566.7" font-size="12.5" text-anchor="middle" fill="#3e3e40" style="font-family:'Liberation Serif',serif">20</text>
<rect x="12.84" y="4.40" width="407.16" height="70.50" rx="1" fill="none" stroke="#363636" stroke-width="2.1"/>
<rect x="594.00" y="4.30" width="402.60" height="70.60" rx="1" fill="none" stroke="#363636" stroke-width="2.1"/>
<rect x="5.07" y="181.90" width="144.93" height="72.30" rx="1" fill="none" stroke="#363636" stroke-width="2.1"/>
<rect x="5.07" y="310.90" width="144.93" height="93.20" rx="1" fill="none" stroke="#363636" stroke-width="2.1"/>
<rect x="5.07" y="440.35" width="144.93" height="51.85" rx="1" fill="none" stroke="#363636" stroke-width="2.1"/>
<rect x="5.07" y="545.00" width="144.93" height="52.00" rx="1" fill="none" stroke="#363636" stroke-width="2.1"/>
<rect x="877.10" y="143.30" width="144.90" height="113.60" rx="1" fill="none" stroke="#363636" stroke-width="2.1"/>
<rect x="875.70" y="383.50" width="145.00" height="114.00" rx="1" fill="none" stroke="#363636" stroke-width="2.1"/>
<rect x="875.70" y="601.60" width="145.10" height="134.40" rx="1" fill="none" stroke="#363636" stroke-width="2.1"/>
<line x1="151.0" y1="214.5" x2="208.0" y2="214.5" stroke="#2e2e2e" stroke-width="2.1"/>
<path d="M213.5,214.5 L206.0,211.1 Q207.0,214.5 206.0,217.9 Z" fill="#2e2e2e" stroke="#2e2e2e" stroke-width="1" stroke-linejoin="round"/>
<line x1="151.0" y1="343.0" x2="208.0" y2="343.0" stroke="#2e2e2e" stroke-width="2.1"/>
<path d="M213.5,343.0 L206.0,339.6 Q207.0,343.0 206.0,346.4 Z" fill="#2e2e2e" stroke="#2e2e2e" stroke-width="1" stroke-linejoin="round"/>
<line x1="151.0" y1="464.5" x2="208.0" y2="464.5" stroke="#2e2e2e" stroke-width="2.1"/>
<path d="M213.5,464.5 L206.0,461.1 Q207.0,464.5 206.0,467.9 Z" fill="#2e2e2e" stroke="#2e2e2e" stroke-width="1" stroke-linejoin="round"/>
<line x1="151.0" y1="569.0" x2="208.0" y2="569.0" stroke="#2e2e2e" stroke-width="2.1"/>
<path d="M213.5,569.0 L206.0,565.6 Q207.0,569.0 206.0,572.4 Z" fill="#2e2e2e" stroke="#2e2e2e" stroke-width="1" stroke-linejoin="round"/>
<line x1="842.0" y1="173.8" x2="877.0" y2="173.8" stroke="#2e2e2e" stroke-width="2.1"/>
<path d="M836.5,173.8 L844.0,170.4 Q843.0,173.8 844.0,177.2 Z" fill="#2e2e2e" stroke="#2e2e2e" stroke-width="1" stroke-linejoin="round"/>
<line x1="843.5" y1="688.8" x2="876.0" y2="688.8" stroke="#2e2e2e" stroke-width="2.1"/>
<path d="M838.0,688.8 L845.5,685.4 Q844.5,688.8 845.5,692.2 Z" fill="#2e2e2e" stroke="#2e2e2e" stroke-width="1" stroke-linejoin="round"/>
<path d="M835.5,275.8 C845,276.2 850,276.8 853.5,278.5 C856,280 856.3,283 856.3,287 L856.3,442 C856.3,446.5 858.5,448.6 865,449.1 L877,449.3 M856.3,612 L856.3,456 C856.3,452 858,450.2 865,449.5 M856.3,612 C856.3,617 855,619.5 851,620.5 C846,621.6 840,621.8 835.5,621.8" fill="none" stroke="#2e2e2e" stroke-width="2"/>
<text x="216.0" y="32.5" font-size="20.05" text-anchor="middle" fill="#262626" stroke="#262626" stroke-width="0.15" style="font-family:'Liberation Sans', sans-serif;">Uso moderado</text>
<text x="216.0" y="58.9" font-size="20.05" text-anchor="middle" fill="#262626" stroke="#262626" stroke-width="0.15" style="font-family:'Liberation Sans', sans-serif;">(Posibles efectos beneficiosis)</text>
<text x="789.3" y="32.1" font-size="20.05" text-anchor="middle" fill="#262626" stroke="#262626" stroke-width="0.15" style="font-family:'Liberation Sans', sans-serif;">ABUSO/ADICCIÓN</text>
<text x="789.3" y="59.1" font-size="20.05" text-anchor="middle" fill="#262626" stroke="#262626" stroke-width="0.15" style="font-family:'Liberation Sans', sans-serif;">(Posibles efectos perjudiciales)</text>
<text x="79.4" y="207.6" font-size="15.60" text-anchor="middle" fill="#262626" stroke="#262626" stroke-width="0.15" style="font-family:'Liberation Sans', sans-serif;">Planificación y</text>
<text x="79.4" y="225.3" font-size="15.60" text-anchor="middle" fill="#262626" stroke="#262626" stroke-width="0.15" style="font-family:'Liberation Sans', sans-serif;">ejecución de</text>
<text x="79.4" y="242.9" font-size="15.60" text-anchor="middle" fill="#262626" stroke="#262626" stroke-width="0.15" style="font-family:'Liberation Sans', sans-serif;">movimientos</text>
<text x="79.5" y="337.0" font-size="15.60" text-anchor="middle" fill="#262626" stroke="#262626" stroke-width="0.15" style="font-family:'Liberation Sans', sans-serif;">Funciones</text>
<text x="79.5" y="354.7" font-size="15.60" text-anchor="middle" fill="#262626" stroke="#262626" stroke-width="0.15" style="font-family:'Liberation Sans', sans-serif;">ejecutivas y</text>
<text x="79.5" y="372.3" font-size="15.60" text-anchor="middle" fill="#262626" stroke="#262626" stroke-width="0.15" style="font-family:'Liberation Sans', sans-serif;">planificación</text>
<text x="79.5" y="390.0" font-size="15.60" text-anchor="middle" fill="#262626" stroke="#262626" stroke-width="0.15" style="font-family:'Liberation Sans', sans-serif;">estratégica</text>
<text x="79.5" y="465.3" font-size="15.60" text-anchor="middle" fill="#262626" stroke="#262626" stroke-width="0.15" style="font-family:'Liberation Sans', sans-serif;">Integración</text>
<text x="79.5" y="483.2" font-size="15.60" text-anchor="middle" fill="#262626" stroke="#262626" stroke-width="0.15" style="font-family:'Liberation Sans', sans-serif;">visuomotora</text>
<text x="79.7" y="571.0" font-size="15.60" text-anchor="middle" fill="#262626" stroke="#262626" stroke-width="0.15" style="font-family:'Liberation Sans', sans-serif;">Memoria visual y</text>
<text x="79.7" y="588.5" font-size="15.60" text-anchor="middle" fill="#262626" stroke="#262626" stroke-width="0.15" style="font-family:'Liberation Sans', sans-serif;">atención</text>
<text x="283.5" y="138.7" font-size="15.60" text-anchor="middle" fill="#262626" stroke="#262626" stroke-width="0.15" style="font-family:'Liberation Sans', sans-serif;">Aumento de grosor</text>
<text x="283.5" y="157.0" font-size="13.45" text-anchor="middle" fill="#262626" stroke="#262626" stroke-width="0.15" style="font-family:'Liberation Sans', sans-serif;">cortical global</text>
<text x="286.0" y="220.0" font-size="15.60" text-anchor="middle" fill="#262626" stroke="#262626" stroke-width="0.15" style="font-family:'Liberation Sans', sans-serif;">Aumento de grosor</text>
<text x="286.0" y="237.2" font-size="13.45" text-anchor="middle" fill="#262626" stroke="#262626" stroke-width="0.15" style="font-family:'Liberation Sans', sans-serif;">córtex precentral (4, 6)</text>
<text x="283.3" y="322.5" font-size="15.60" text-anchor="middle" fill="#262626" stroke="#262626" stroke-width="0.15" style="font-family:'Liberation Sans', sans-serif;">Aumento de grosor</text>
<text x="283.3" y="341.0" font-size="13.45" text-anchor="middle" fill="#262626" stroke="#262626" stroke-width="0.15" style="font-family:'Liberation Sans', sans-serif;">córtex prefrontal</text>
<text x="283.3" y="358.8" font-size="13.45" text-anchor="middle" fill="#262626" stroke="#262626" stroke-width="0.15" style="font-family:'Liberation Sans', sans-serif;">dorsolateral (46, 9)</text>
<text x="286.4" y="455.0" font-size="15.60" text-anchor="middle" fill="#262626" stroke="#262626" stroke-width="0.15" style="font-family:'Liberation Sans', sans-serif;">Aumento de grosor</text>
<text x="286.4" y="472.4" font-size="13.45" text-anchor="middle" fill="#262626" stroke="#262626" stroke-width="0.15" style="font-family:'Liberation Sans', sans-serif;">campo visual frontal</text>
<text x="286.4" y="490.5" font-size="13.45" text-anchor="middle" fill="#262626" stroke="#262626" stroke-width="0.15" style="font-family:'Liberation Sans', sans-serif;">izquierdo (8)</text>
<text x="286.4" y="558.4" font-size="15.60" text-anchor="middle" fill="#262626" stroke="#262626" stroke-width="0.15" style="font-family:'Liberation Sans', sans-serif;">Aumento de grosor</text>
<text x="286.4" y="575.4" font-size="13.45" text-anchor="middle" fill="#262626" stroke="#262626" stroke-width="0.15" style="font-family:'Liberation Sans', sans-serif;">Córtex parietal</text>
<text x="286.4" y="593.5" font-size="13.45" text-anchor="middle" fill="#262626" stroke="#262626" stroke-width="0.15" style="font-family:'Liberation Sans', sans-serif;">superior (5)</text>
<text x="738.3" y="130.9" font-size="17.15" text-anchor="middle" fill="#262626" stroke="#262626" stroke-width="0.15" style="font-family:'Liberation Sans', sans-serif;">Disminución del grosor y</text>
<text x="738.3" y="150.5" font-size="17.15" text-anchor="middle" fill="#262626" stroke="#262626" stroke-width="0.15" style="font-family:'Liberation Sans', sans-serif;">metabolismo basal y</text>
<text x="738.3" y="169.6" font-size="14.70" text-anchor="middle" fill="#262626" stroke="#262626" stroke-width="0.15" style="font-family:'Liberation Sans', sans-serif;">excesiva activación en</text>
<text x="738.3" y="189.3" font-size="14.70" text-anchor="middle" fill="#262626" stroke="#262626" stroke-width="0.15" style="font-family:'Liberation Sans', sans-serif;">respuesta a estímulos córtex</text>
<text x="738.3" y="209.5" font-size="14.70" text-anchor="middle" fill="#262626" stroke="#262626" stroke-width="0.15" style="font-family:'Liberation Sans', sans-serif;">orbitofrontal derecho (10,</text>
<text x="738.3" y="229.5" font-size="14.70" text-anchor="middle" fill="#262626" stroke="#262626" stroke-width="0.15" style="font-family:'Liberation Sans', sans-serif;">11, 47)</text>
<text x="738.2" y="295.3" font-size="17.15" text-anchor="middle" fill="#262626" stroke="#262626" stroke-width="0.15" style="font-family:'Liberation Sans',sans-serif">Excesiva liberación de</text>
<text x="738" y="314.7" text-anchor="middle" fill="#262626" stroke="#262626" stroke-width="0.15" style="font-family:'Liberation Sans',sans-serif"><tspan font-size="17.15">dopamian</tspan><tspan font-size="14.55"> y densidad</tspan></text>
<text x="738.3" y="333.6" font-size="14.55" text-anchor="middle" fill="#262626" stroke="#262626" stroke-width="0.15" style="font-family:'Liberation Sans', sans-serif;">receptores D2 estriado</text>
<text x="738.3" y="353.7" font-size="14.55" text-anchor="middle" fill="#262626" stroke="#262626" stroke-width="0.15" style="font-family:'Liberation Sans', sans-serif;">ventral</text>
<text x="738.2" y="384.1" font-size="17.15" text-anchor="middle" fill="#262626" stroke="#262626" stroke-width="0.15" style="font-family:'Liberation Sans', sans-serif;">Excesiva activación en</text>
<text x="738.2" y="404.4" font-size="17.15" text-anchor="middle" fill="#262626" stroke="#262626" stroke-width="0.15" style="font-family:'Liberation Sans', sans-serif;">respuesta a estímulos:</text>
<text x="735.2" y="435.2" font-size="15.65" text-anchor="middle" fill="#262626" stroke="#262626" stroke-width="0.15" style="font-family:'Liberation Sans', sans-serif;">Cingulado anterior (24, 32)</text>
<text x="735.0" y="465.6" font-size="15.65" text-anchor="middle" fill="#262626" stroke="#262626" stroke-width="0.15" style="font-family:'Liberation Sans', sans-serif;">Córtex frontal medial</text>
<text x="735.0" y="485.5" font-size="15.65" text-anchor="middle" fill="#262626" stroke="#262626" stroke-width="0.15" style="font-family:'Liberation Sans', sans-serif;">derecho (10)</text>
<text x="738.0" y="517.4" font-size="15.65" text-anchor="middle" fill="#262626" stroke="#262626" stroke-width="0.15" style="font-family:'Liberation Sans', sans-serif;">Córtex frontal dorsolateral</text>
<text x="738.0" y="536.6" font-size="15.65" text-anchor="middle" fill="#262626" stroke="#262626" stroke-width="0.15" style="font-family:'Liberation Sans', sans-serif;">derecho (46, 9)</text>
<text x="738.3" y="567.8" font-size="15.65" text-anchor="middle" fill="#262626" stroke="#262626" stroke-width="0.15" style="font-family:'Liberation Sans', sans-serif;">Núcleo accumbens y núcleo</text>
<text x="738.3" y="587.7" font-size="15.65" text-anchor="middle" fill="#262626" stroke="#262626" stroke-width="0.15" style="font-family:'Liberation Sans', sans-serif;">caudado derecho</text>
<text x="738.3" y="608.0" font-size="15.65" text-anchor="middle" fill="#262626" stroke="#262626" stroke-width="0.15" style="font-family:'Liberation Sans', sans-serif;">(Subcorticales)</text>
<text x="735.6" y="669.4" font-size="15.70" text-anchor="middle" fill="#262626" stroke="#262626" stroke-width="0.15" style="font-family:'Liberation Sans', sans-serif;">Excesiva activación en</text>
<text x="735.6" y="689.0" font-size="15.70" text-anchor="middle" fill="#262626" stroke="#262626" stroke-width="0.15" style="font-family:'Liberation Sans', sans-serif;">respuesta a estímulos:</text>
<text x="738.2" y="721.6" font-size="15.65" text-anchor="middle" fill="#262626" stroke="#262626" stroke-width="0.15" style="font-family:'Liberation Sans', sans-serif;">Córtex parietal inferior (7)</text>
<text x="948.4" y="170.8" font-size="15.70" text-anchor="middle" fill="#262626" stroke="#262626" stroke-width="0.15" style="font-family:'Liberation Sans', sans-serif;">Errores en tareas</text>
<text x="948.4" y="192.7" font-size="15.70" text-anchor="middle" fill="#262626" stroke="#262626" stroke-width="0.15" style="font-family:'Liberation Sans', sans-serif;">eficiencia frontal</text>
<text x="948.4" y="217.0" font-size="15.70" text-anchor="middle" fill="#262626" stroke="#262626" stroke-width="0.15" style="font-family:'Liberation Sans', sans-serif;">+</text>
<text x="948.4" y="237.6" font-size="15.70" text-anchor="middle" fill="#262626" stroke="#262626" stroke-width="0.15" style="font-family:'Liberation Sans', sans-serif;">Impulsividad</text>
<text x="948.0" y="407.0" font-size="15.70" text-anchor="middle" fill="#262626" stroke="#262626" stroke-width="0.15" style="font-family:'Liberation Sans', sans-serif;">Conductas</text>
<text x="948.0" y="427.4" font-size="15.70" text-anchor="middle" fill="#262626" stroke="#262626" stroke-width="0.15" style="font-family:'Liberation Sans', sans-serif;">adictivas</text>
<text x="948.0" y="448.2" font-size="15.70" text-anchor="middle" fill="#262626" stroke="#262626" stroke-width="0.15" style="font-family:'Liberation Sans', sans-serif;">(motivación,</text>
<text x="948.0" y="468.4" font-size="15.70" text-anchor="middle" fill="#262626" stroke="#262626" stroke-width="0.15" style="font-family:'Liberation Sans', sans-serif;">placer,</text>
<text x="948.0" y="488.3" font-size="15.70" text-anchor="middle" fill="#262626" stroke="#262626" stroke-width="0.15" style="font-family:'Liberation Sans', sans-serif;">recompensa)</text>
<text x="952.4" y="632.0" font-size="15.70" text-anchor="middle" fill="#262626" stroke="#262626" stroke-width="0.15" style="font-family:'Liberation Sans', sans-serif;">Problemas de</text>
<text x="952.4" y="651.7" font-size="15.70" text-anchor="middle" fill="#262626" stroke="#262626" stroke-width="0.15" style="font-family:'Liberation Sans', sans-serif;">inhibición del</text>
<text x="952.4" y="672.0" font-size="15.70" text-anchor="middle" fill="#262626" stroke="#262626" stroke-width="0.15" style="font-family:'Liberation Sans', sans-serif;">comportamiento</text>
<text x="952.4" y="695.2" font-size="15.70" text-anchor="middle" fill="#262626" stroke="#262626" stroke-width="0.15" style="font-family:'Liberation Sans', sans-serif;">+</text>
<text x="952.4" y="716.6" font-size="15.70" text-anchor="middle" fill="#262626" stroke="#262626" stroke-width="0.15" style="font-family:'Liberation Sans', sans-serif;font-style:italic">Craving</text>
</svg></body></html>
